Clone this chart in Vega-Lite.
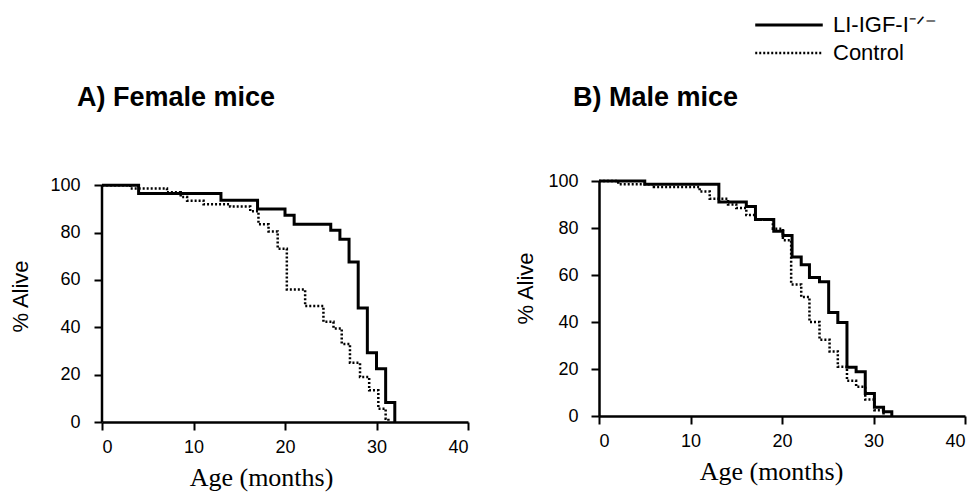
{
  "$schema": "https://vega.github.io/schema/vega-lite/v6.json",
  "background": "white",
  "padding": {"left": 9, "top": 14, "right": 5, "bottom": 5},
  "config": {
    "view": {"stroke": null},
    "font": "Liberation Sans",
    "axis": {"domainColor": "black", "domainWidth": 2.5, "tickColor": "black", "tickWidth": 2, "tickSize": 8, "labelFont": "Liberation Sans", "labelFontSize": 18, "labelColor": "black", "grid": false, "titleColor": "black", "titleFontWeight": "normal"},
    "legend": {"labelFont": "Liberation Sans", "labelFontSize": 22, "labelColor": "black"}
  },
  "datasets": {
    "surv": [
      {"sex": "Female", "group": "LI-IGF-I⁻ᐟ⁻", "month": 0, "alive": 100},
      {"sex": "Female", "group": "LI-IGF-I⁻ᐟ⁻", "month": 4, "alive": 96.5},
      {"sex": "Female", "group": "LI-IGF-I⁻ᐟ⁻", "month": 13, "alive": 93.7},
      {"sex": "Female", "group": "LI-IGF-I⁻ᐟ⁻", "month": 17, "alive": 90},
      {"sex": "Female", "group": "LI-IGF-I⁻ᐟ⁻", "month": 20, "alive": 87.3},
      {"sex": "Female", "group": "LI-IGF-I⁻ᐟ⁻", "month": 21, "alive": 83.5},
      {"sex": "Female", "group": "LI-IGF-I⁻ᐟ⁻", "month": 25, "alive": 81},
      {"sex": "Female", "group": "LI-IGF-I⁻ᐟ⁻", "month": 26, "alive": 77.2},
      {"sex": "Female", "group": "LI-IGF-I⁻ᐟ⁻", "month": 27, "alive": 67.6},
      {"sex": "Female", "group": "LI-IGF-I⁻ᐟ⁻", "month": 28, "alive": 48.2},
      {"sex": "Female", "group": "LI-IGF-I⁻ᐟ⁻", "month": 29, "alive": 29.2},
      {"sex": "Female", "group": "LI-IGF-I⁻ᐟ⁻", "month": 30, "alive": 22.5},
      {"sex": "Female", "group": "LI-IGF-I⁻ᐟ⁻", "month": 31, "alive": 8.2},
      {"sex": "Female", "group": "LI-IGF-I⁻ᐟ⁻", "month": 32, "alive": 0},
      {"sex": "Female", "group": "Control", "month": 0, "alive": 100},
      {"sex": "Female", "group": "Control", "month": 3.1, "alive": 98.6},
      {"sex": "Female", "group": "Control", "month": 7.1, "alive": 97},
      {"sex": "Female", "group": "Control", "month": 8.6, "alive": 95},
      {"sex": "Female", "group": "Control", "month": 9.3, "alive": 93.5},
      {"sex": "Female", "group": "Control", "month": 11.1, "alive": 92},
      {"sex": "Female", "group": "Control", "month": 14, "alive": 91},
      {"sex": "Female", "group": "Control", "month": 16.2, "alive": 89},
      {"sex": "Female", "group": "Control", "month": 17.1, "alive": 83.5},
      {"sex": "Female", "group": "Control", "month": 18.2, "alive": 80.5},
      {"sex": "Female", "group": "Control", "month": 19.2, "alive": 73.2},
      {"sex": "Female", "group": "Control", "month": 20.2, "alive": 56},
      {"sex": "Female", "group": "Control", "month": 22.2, "alive": 49},
      {"sex": "Female", "group": "Control", "month": 24.2, "alive": 42.3},
      {"sex": "Female", "group": "Control", "month": 25.3, "alive": 39.5},
      {"sex": "Female", "group": "Control", "month": 26.2, "alive": 33},
      {"sex": "Female", "group": "Control", "month": 27.1, "alive": 25},
      {"sex": "Female", "group": "Control", "month": 28.2, "alive": 19},
      {"sex": "Female", "group": "Control", "month": 29.2, "alive": 13.4},
      {"sex": "Female", "group": "Control", "month": 30.2, "alive": 5.6},
      {"sex": "Female", "group": "Control", "month": 31, "alive": 1.4},
      {"sex": "Female", "group": "Control", "month": 31.3, "alive": 0},
      {"sex": "Male", "group": "LI-IGF-I⁻ᐟ⁻", "month": 0, "alive": 100},
      {"sex": "Male", "group": "LI-IGF-I⁻ᐟ⁻", "month": 5, "alive": 98.6},
      {"sex": "Male", "group": "LI-IGF-I⁻ᐟ⁻", "month": 13.1, "alive": 91.1},
      {"sex": "Male", "group": "LI-IGF-I⁻ᐟ⁻", "month": 16.1, "alive": 89.2},
      {"sex": "Male", "group": "LI-IGF-I⁻ᐟ⁻", "month": 17.1, "alive": 83.6},
      {"sex": "Male", "group": "LI-IGF-I⁻ᐟ⁻", "month": 19.1, "alive": 78.6},
      {"sex": "Male", "group": "LI-IGF-I⁻ᐟ⁻", "month": 20.1, "alive": 76.8},
      {"sex": "Male", "group": "LI-IGF-I⁻ᐟ⁻", "month": 21.1, "alive": 67.7},
      {"sex": "Male", "group": "LI-IGF-I⁻ᐟ⁻", "month": 22.1, "alive": 64.4},
      {"sex": "Male", "group": "LI-IGF-I⁻ᐟ⁻", "month": 23, "alive": 58.9},
      {"sex": "Male", "group": "LI-IGF-I⁻ᐟ⁻", "month": 24.1, "alive": 57.1},
      {"sex": "Male", "group": "LI-IGF-I⁻ᐟ⁻", "month": 25.1, "alive": 44},
      {"sex": "Male", "group": "LI-IGF-I⁻ᐟ⁻", "month": 26.1, "alive": 39.8},
      {"sex": "Male", "group": "LI-IGF-I⁻ᐟ⁻", "month": 27.1, "alive": 20.7},
      {"sex": "Male", "group": "LI-IGF-I⁻ᐟ⁻", "month": 28.1, "alive": 18.8},
      {"sex": "Male", "group": "LI-IGF-I⁻ᐟ⁻", "month": 29.1, "alive": 9.6},
      {"sex": "Male", "group": "LI-IGF-I⁻ᐟ⁻", "month": 30.1, "alive": 3.7},
      {"sex": "Male", "group": "LI-IGF-I⁻ᐟ⁻", "month": 31.1, "alive": 1.8},
      {"sex": "Male", "group": "LI-IGF-I⁻ᐟ⁻", "month": 32, "alive": 0},
      {"sex": "Male", "group": "Control", "month": 0, "alive": 100},
      {"sex": "Male", "group": "Control", "month": 2.1, "alive": 98.6},
      {"sex": "Male", "group": "Control", "month": 6, "alive": 97.5},
      {"sex": "Male", "group": "Control", "month": 11, "alive": 95.5},
      {"sex": "Male", "group": "Control", "month": 12.1, "alive": 92.5},
      {"sex": "Male", "group": "Control", "month": 14.1, "alive": 90},
      {"sex": "Male", "group": "Control", "month": 15, "alive": 88.5},
      {"sex": "Male", "group": "Control", "month": 16.1, "alive": 85.5},
      {"sex": "Male", "group": "Control", "month": 17.1, "alive": 83.5},
      {"sex": "Male", "group": "Control", "month": 19, "alive": 79.7},
      {"sex": "Male", "group": "Control", "month": 20.1, "alive": 74.8},
      {"sex": "Male", "group": "Control", "month": 21, "alive": 56},
      {"sex": "Male", "group": "Control", "month": 22.1, "alive": 50.6},
      {"sex": "Male", "group": "Control", "month": 23, "alive": 40},
      {"sex": "Male", "group": "Control", "month": 24.1, "alive": 32.5},
      {"sex": "Male", "group": "Control", "month": 25.2, "alive": 27.5},
      {"sex": "Male", "group": "Control", "month": 26.1, "alive": 21},
      {"sex": "Male", "group": "Control", "month": 27.1, "alive": 15},
      {"sex": "Male", "group": "Control", "month": 28.1, "alive": 12.5},
      {"sex": "Male", "group": "Control", "month": 29.1, "alive": 7},
      {"sex": "Male", "group": "Control", "month": 30.1, "alive": 2.5},
      {"sex": "Male", "group": "Control", "month": 31.1, "alive": 0}
    ]
  },
  "spacing": 45,
  "hconcat": [
    {
      "width": 366,
      "height": 241,
      "title": {"text": "A) Female mice", "anchor": "start", "frame": "group", "dx": -25, "offset": 64, "fontSize": 27, "font": "Liberation Sans", "fontWeight": "bold", "color": "black"},
      "layer": [
        {
          "data": {"name": "surv"},
          "transform": [{"filter": "datum.sex === 'Female'"}],
          "mark": {"type": "line", "interpolate": "step-after", "color": "black"},
          "encoding": {
            "x": {"field": "month", "type": "quantitative", "scale": {"domain": [0, 40], "nice": false},
              "axis": {"values": [0, 10, 20, 30, 40], "title": "Age (months)", "titleFont": "Liberation Serif", "titleFontSize": 26, "titlePadding": 8, "titleX": 159, "labelPadding": 8}},
            "y": {"field": "alive", "type": "quantitative", "scale": {"domain": [0, 101.8], "nice": false},
              "axis": {"values": [0, 20, 40, 60, 80, 100], "domain": false, "title": "% Alive", "titleFontSize": 22, "titlePadding": 17, "titleY": 115, "labelPadding": 14}},
            "strokeDash": {"field": "group", "type": "nominal", "scale": {"domain": ["LI-IGF-I⁻ᐟ⁻", "Control"], "range": [[1, 0], [2, 2]]},
              "legend": {"orient": "none", "legendX": 676, "legendY": -167, "title": null, "symbolType": "M-4,0H4", "symbolSize": 285, "symbolStrokeColor": "black", "symbolFillColor": "transparent", "labelOffset": 33, "rowPadding": 6}},
            "strokeWidth": {"field": "group", "type": "nominal", "scale": {"domain": ["LI-IGF-I⁻ᐟ⁻", "Control"], "range": [3, 2.5]}}
          }
        },
        {
          "data": {"values": [{}]},
          "mark": {"type": "rule", "color": "black", "strokeWidth": 2.5},
          "encoding": {
            "x": {"datum": 0, "type": "quantitative"},
            "y": {"datum": 0, "type": "quantitative"},
            "y2": {"datum": 100}
          }
        }
      ]
    },
    {
      "width": 366,
      "height": 235,
      "title": {"text": "B) Male mice", "anchor": "start", "frame": "group", "dx": -26, "offset": 60, "fontSize": 27, "font": "Liberation Sans", "fontWeight": "bold", "color": "black"},
      "data": {"name": "surv"},
      "transform": [{"filter": "datum.sex === 'Male'"}],
      "mark": {"type": "line", "interpolate": "step-after", "color": "black"},
      "encoding": {
        "x": {"field": "month", "type": "quantitative", "scale": {"domain": [0, 40], "nice": false},
          "axis": {"values": [0, 10, 20, 30, 40], "title": "Age (months)", "titleFont": "Liberation Serif", "titleFontSize": 26, "titlePadding": 8, "titleX": 172, "labelPadding": 8}},
        "y": {"field": "alive", "type": "quantitative", "scale": {"domain": [0, 100], "nice": false},
          "axis": {"values": [0, 20, 40, 60, 80, 100], "title": "% Alive", "titleFontSize": 22, "titlePadding": 10, "titleY": 107, "labelPadding": 13}},
        "strokeDash": {"field": "group", "type": "nominal", "scale": {"domain": ["LI-IGF-I⁻ᐟ⁻", "Control"], "range": [[1, 0], [2, 2]]}},
        "strokeWidth": {"field": "group", "type": "nominal", "scale": {"domain": ["LI-IGF-I⁻ᐟ⁻", "Control"], "range": [3, 2.5]}}
      }
    }
  ]
}
